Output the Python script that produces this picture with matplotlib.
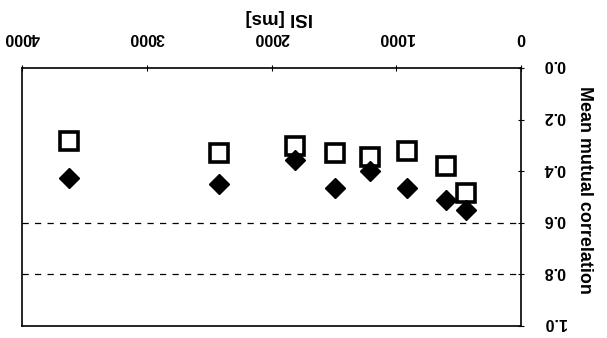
import matplotlib
matplotlib.use("Agg")
import matplotlib.pyplot as plt
from matplotlib.transforms import ScaledTranslation

plt.rcParams['font.family'] = ['Liberation Sans', 'DejaVu Sans']

isi_ms = [3620, 2420, 1810, 1490, 1210, 910, 600, 440]
corr_open = [0.283, 0.329, 0.302, 0.329, 0.345, 0.322, 0.380, 0.484]
corr_filled = [0.426, 0.450, 0.357, 0.465, 0.399, 0.465, 0.512, 0.550]
x_ticks = [0, 1000, 2000, 3000, 4000]
y_ticks = [0.0, 0.2, 0.4, 0.6, 0.8, 1.0]
y_ticklabels = ["0.0", "0.2", "0.4", "0.6", "0.8", "1.0"]
grid_levels = [0.6, 0.8]

fig = plt.figure(figsize=(6.07, 3.38), dpi=100)
ax = fig.add_axes([22/607, 1 - 326/338, (521 - 22)/607, (326 - 68)/338])

for g in grid_levels:
    ax.axhline(g, color='black', lw=0.9, ls=(0, (5, 5)), zorder=1)

ax.plot(isi_ms, corr_open, ls='none', marker='s', markersize=13,
        markerfacecolor='white', markeredgecolor='black', markeredgewidth=2.6, zorder=3)
ax.plot(isi_ms, corr_filled, ls='none', marker='D', markersize=10,
        markerfacecolor='black', markeredgecolor='black', zorder=4)

ax.set_xlim(4000, 0)
ax.set_ylim(1.0, 0.0)
ax.xaxis.tick_top()
ax.yaxis.tick_right()
ax.set_xticks(x_ticks)
ax.set_xticklabels([str(t) for t in x_ticks], rotation=180, fontsize=11.5, fontweight='bold')
ax.set_yticks(y_ticks)
ax.set_yticklabels(y_ticklabels, rotation=180, fontsize=11.5, fontweight='bold')
ax.tick_params(axis='both', direction='inout', length=4, width=0.8)
ax.tick_params(axis='x', pad=14.3)
ax.tick_params(axis='y', pad=14)

shift_up = ScaledTranslation(0, 4.5/100, fig.dpi_scale_trans)
for lbl in ax.get_yticklabels():
    lbl.set_transform(lbl.get_transform() + shift_up)

fig.text(279/607, 1 - 17.5/338, "ISI [ms]", rotation=180, fontsize=13.5,
         fontweight='bold', ha='center', va='center')
fig.text(584.5/607, 1 - 190/338, "Mean mutual correlation", rotation=-90,
         fontsize=12.9, fontweight='bold', ha='center', va='center')

for s in ax.spines.values():
    s.set_linewidth(1.2)

fig.savefig("out.png", dpi=100)
